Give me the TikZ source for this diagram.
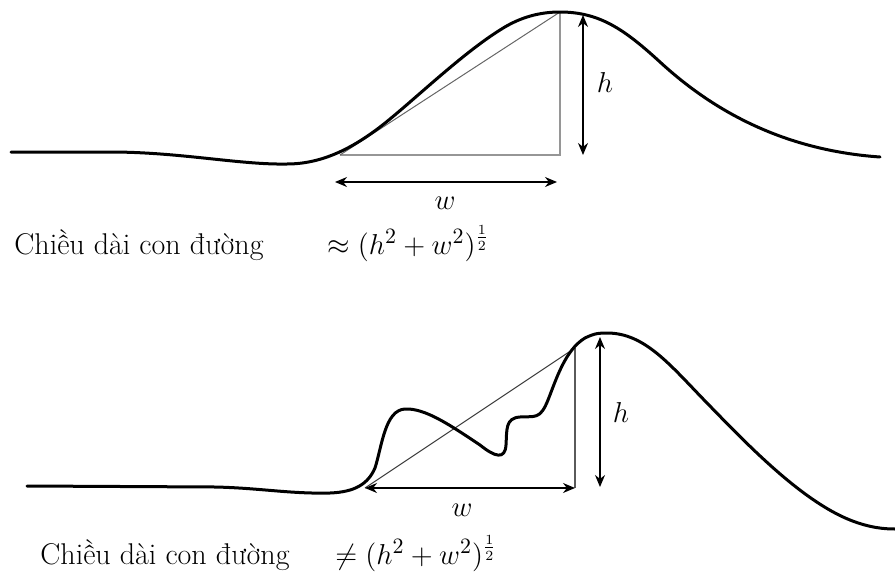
\documentclass[tikz,border=0pt]{standalone}
\usepackage{fontspec}
\usepackage{amsmath}
\usetikzlibrary{arrows.meta}
\definecolor{legA}{RGB}{150,150,150}
\definecolor{legB}{RGB}{90,90,90}

\begin{document}
\begin{tikzpicture}[x=0.5pt, y=-0.5pt,
        road/.style={line width=1.5pt, black, line cap=round, line join=round},
        leg/.style={line width=0.8pt},
        hyp/.style={line width=0.5pt, black!75},
        dim/.style={{Stealth[length=6pt,width=5pt]}-{Stealth[length=6pt,width=5pt]}, line width=0.6pt},
        lbl/.style={font=\fontsize{15}{18}\selectfont, inner sep=0pt}
    ]
    \useasboundingbox (0,0) rectangle (895,578);

    % upper: smooth road
    \coordinate (peakA) at (560,12);
    \coordinate (footA) at (340,155);
    \coordinate (rightA) at (560,155);
    \coordinate (hTopA) at (583,15);
    \coordinate (hBotA) at (583,155);
    \coordinate (wLeftA) at (335,182);
    \coordinate (wRightA) at (557,182);

    \draw[leg, legA] (footA) -- (rightA) -- (peakA);
    \draw[hyp, black!60] (footA) -- (peakA);
    \draw[road] (11,152) -- (110,152) .. controls (180,152) and (240,165) .. (287,164)
        .. controls (320,164) and (350,150) .. (380,127)
        .. controls (410,104) and (460,55) .. (500,30)
        .. controls (520,17) and (540,12) .. (peakA)
        .. controls (600,12) and (625,30) .. (660,62)
        .. controls (710,108) and (780,150) .. (880,157);
    \draw[dim] (hTopA) -- (hBotA);
    \draw[dim] (wLeftA) -- (wRightA);
    \node[lbl] (hA) at (605,82) {$h$};
    \node[lbl] (wA) at (445,203) {$w$};
    \node[lbl, anchor=base west] (capA) at (14,254) {Chiều dài con đường};
    \node[lbl, anchor=base west] (fmA) at (327,254) {$\approx (h^2 + w^2)^{\frac{1}{2}}$};

    % lower: wiggly road
    \coordinate (peakB) at (575,348);
    \coordinate (footB) at (365,488);
    \coordinate (rightB) at (575,488);
    \coordinate (hTopB) at (600,337);
    \coordinate (hBotB) at (600,487);

    \draw[leg, legB] (rightB) -- (peakB);
    \draw[hyp] (footB) -- (peakB);
    \draw[road] (27,486) -- (215,487) .. controls (260,488) and (290,494) .. (330,493)
        .. controls (355,492) and (368,484) .. (375,468)
        .. controls (382,446) and (385,410) .. (405,409)
        .. controls (425,408) and (450,425) .. (480,445)
        .. controls (495,457) and (505,460) .. (506,445)
        .. controls (507,430) and (505,418) .. (520,417)
        .. controls (535,416) and (540,420) .. (548,400)
        .. controls (556,380) and (565,350) .. (585,338)
        .. controls (595,333) and (600,333) .. (607,333)
        .. controls (645,333) and (670,365) .. (707,403)
        .. controls (745,442) and (800,500) .. (850,520)
        .. controls (870,528) and (885,529) .. (895,529);
    \draw[dim] (hTopB) -- (hBotB);
    \draw[dim] (footB) -- (rightB);
    \node[lbl] (hB) at (621,412) {$h$};
    \node[lbl] (wB) at (462,510) {$w$};
    \node[lbl, anchor=base west] (capB) at (40,564) {Chiều dài con đường};
    \node[lbl, anchor=base west] (fmB) at (335,564) {$\neq (h^2 + w^2)^{\frac{1}{2}}$};
\end{tikzpicture}
\end{document}
